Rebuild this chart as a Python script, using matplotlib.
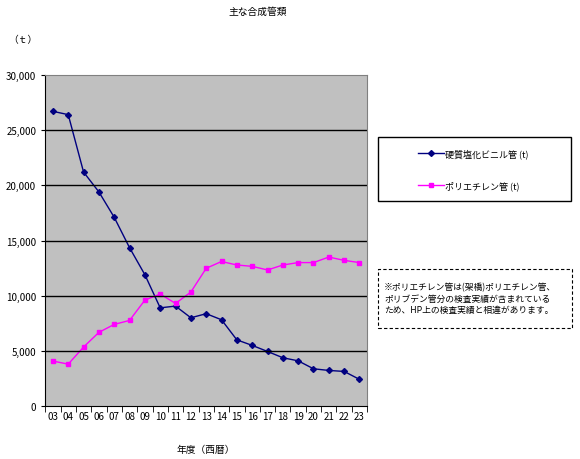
import matplotlib
matplotlib.use("Agg")
import matplotlib.pyplot as plt
from matplotlib.patches import Rectangle
from matplotlib.lines import Line2D

plt.rcParams['font.family'] = ['Noto Sans CJK JP', 'DejaVu Sans']

years = ["03","04","05","06","07","08","09","10","11","12","13","14","15","16","17","18","19","20","21","22","23"]
pvc = [26700,26400,21200,19400,17100,14350,11900,8900,9060,8000,8370,7820,6000,5500,4950,4380,4100,3380,3230,3140,2420]
pe = [4080,3800,5350,6680,7400,7760,9600,10150,9300,10330,12480,13100,12780,12660,12330,12780,13000,13000,13500,13200,13000]
yticks = [0,5000,10000,15000,20000,25000,30000]

fig = plt.figure(figsize=(5.8,4.6), dpi=100)
ax = fig.add_axes([0.078,0.115,0.555,0.72])
ax.set_facecolor('#c0c0c0')
x = range(len(years))
ax.plot(x, pvc, color='#000080', marker='D', markersize=3, lw=1, label='硬質塩化ビニル管 (t)')
ax.plot(x, pe, color='#ff00ff', marker='s', markersize=3, lw=1, label='ポリエチレン管 (t)')
ax.set_xlim(-0.5, len(years)-0.5)
ax.set_ylim(0,30000)
ax.set_yticks(yticks)
ax.set_yticklabels([f"{v:,}" for v in yticks], fontsize=7)
ax.set_xticks(list(x))
ax.set_xticklabels(years, fontsize=7)
ax.set_xticks([i-0.5 for i in range(len(years)+1)], minor=True)
ax.tick_params(axis='x', which='major', length=0)
ax.tick_params(axis='x', which='minor', length=4)
ax.tick_params(axis='y', length=3)
for v in yticks[1:-1]:
    ax.axhline(v, color='black', lw=1)
for s in ['top','right']:
    ax.spines[s].set_color('#808080')

fig.text(0.445, 0.975, '主な合成管類', ha='center', va='center', fontsize=7)
fig.text(0.04, 0.913, '（ｔ）', ha='center', va='center', fontsize=7)
fig.text(0.355, 0.022, '年度（西暦）', ha='center', va='center', fontsize=7)

fig.patches.append(Rectangle((0.652,0.56),0.333,0.14, transform=fig.transFigure, fill=False, ec='black', lw=1))
fig.lines.append(Line2D([0.72,0.765],[0.665,0.665], transform=fig.transFigure, color='#000080', lw=1, marker='D', markersize=3, markevery=[1]))
fig.lines.append(Line2D([0.72,0.765],[0.595,0.595], transform=fig.transFigure, color='#ff00ff', lw=1, marker='s', markersize=3, markevery=[1]))
fig.lines[-2].set_data([0.72,0.7425,0.765],[0.665,0.665,0.665])
fig.lines[-1].set_data([0.72,0.7425,0.765],[0.595,0.595,0.595])
fig.text(0.768, 0.665, '硬質塩化ビニル管 (t)', va='center', fontsize=6.5)
fig.text(0.768, 0.595, 'ポリエチレン管 (t)', va='center', fontsize=6.5)

fig.patches.append(Rectangle((0.652,0.285),0.334,0.128, transform=fig.transFigure, fill=False, ec='black', lw=0.8, ls=(0,(3,2))))
fig.text(0.662, 0.35, '※ポリエチレン管は(架橋)ポリエチレン管、\nポリブデン管分の検査実績が含まれている\nため、HP上の検査実績と相違があります。', va='center', fontsize=6.3, linespacing=1.3)

fig.savefig('out.png', dpi=100)
